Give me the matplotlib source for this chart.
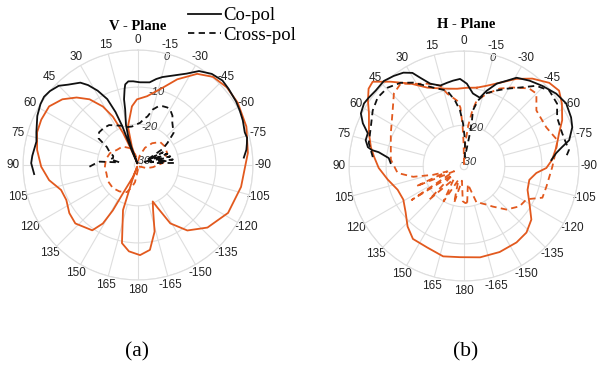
import numpy as np
import matplotlib
matplotlib.use("Agg")
import matplotlib.pyplot as plt
from matplotlib.lines import Line2D

# measured patterns, angle in degrees (0 = boresight, positive to the left), level in dB
# V - plane
v_co1_ang = [95, 89, 85, 77, 72, 64, 58, 54, 50, 45, 41, 35, 32, 28.5, 25, 23, 22, 22.5, 23, 22,
             20.5, 19, 16.7, 13, 12, 10, 9, 6.6, 3.3, -1.3, -8, -12, -15.5, -21, -28, -33, -39,
             -45, -50, -57, -62, -67, -73, -76, -79, -82, -86]
v_co1_db = [-2.9, -2.2, -2.4, -2.9, -2.2, -0.8, 0, 0.3, 0, -0.8, -2.3, -3.9, -5.6, -8.2, -11.4,
            -15.5, -19.8, -23.6, -27.4, -30.5, -26, -23, -19.7, -15.6, -12.9, -10.2, -9.0, -8.3,
            -8.4, -8.7, -8.5, -7.3, -6.4, -5.2, -3.1, -0.8, 0.6, 1.2, 0.9, 0.5, 0.1, -0.3, -0.9,
            -0.7, -1.1, -1.5, -2.4]

v_co2_ang = [20, 24, 25, 27.5, 31, 36.4, 42.3, 49, 56.6, 64.9, 72, 81.5, 91, 99.7, 108, 116, 125,
             133, 145, 149, 151, 152, 157, 158, 159, 161.6, 168.4, 174, -178.7, -172, -166,
             -161.6, -158, -155.6, -151, -143, -132, -118, -102, -83.7, -70.4, -58, -48.8, -40.4,
             -33, -24.6, -16.3, -7.5, 0.9, 5.9, 14.7, 18.4, 20]
v_co2_db = [-30.5, -25.6, -21.4, -16.3, -12.6, -9.0, -6.4, -4.0, -2.3, -2.2, -2.4, -3.5, -4.9,
            -6.7, -9.2, -9.5, -8.4, -7.9, -9.5, -12.6, -17.0, -22.3, -27.5, -30.5, -27, -18.2,
            -9.5, -7.6, -6.7, -7.9, -12.5, -18.1, -20.4, -18.5, -13.0, -8.9, -5.8, -3.5, -2.6,
            -1.2, 0.0, 0.7, 0.8, 0.2, -1.7, -5.6, -9.7, -12.3, -13.3, -15.1, -20.3, -25.8, -30.5]

v_x1_ang = [92, 88, 85, 82, 78, 75, 70, 65, 60, 56, 50, 43, 36, 29, 22, 15, 9, 3, -3, -8, -11,
            -15, -19, -23, -27, -30, -35, -39, -44, -48, -53, -57, -60, -63, -66, -69, -72, -75,
            -78, -81, -84, -87]
v_x1_db = [-17.9, -19.5, -20.6, -26, -23.3, -24, -23.9, -22.5, -21.3, -18.2, -17.3, -17.4, -17.7,
           -18.8, -19.6, -20.4, -20.5, -20.1, -19.6, -18.3, -17.7, -15.5, -14.3, -13.8, -13.6,
           -13.7, -14.8, -16.3, -17.4, -18.1, -21, -23, -28, -23.5, -29, -22.5, -28, -22, -27.5,
           -21.5, -26, -20.4]

v_x2_ang = [-150, -120, -110, -98, -85, -67, -55, -44, -33, -22, -10, 0, 15, 25, 40, 54.5, 67,
            80, 95, 104.5, 118, 132.6, 145, 157.8, 165, 170, 178, -170, -150]
v_x2_db = [-30.5, -30, -28.5, -26.9, -24.2, -22.5, -22.2, -22.4, -24, -26, -28.5, -30, -28, -26,
           -24.5, -24, -22.8, -22.2, -22, -22.2, -21.8, -21.8, -22.3, -23.1, -25, -26.3, -29.6,
           -30.5, -30.5]

# H - plane
h_co1_ang = [87.7, 84, 80.8, 80.2, 78.9, 75.3, 71.2, 67.1, 63, 58, 54.3, 49.5, 43.3, 38, 33, 29,
             26.3, 22.3, 16.5, 11.4, 7.3, 2.6, -2, -7, -13, -16.8, -21.7, -26.6, -30.8, -37.5,
             -44.3, -51.9, -58.5, -65.6, -70.3, -76.2, -79.1, -82, -86.1]
h_co1_db = [-11.2, -10.6, -7.7, -5.8, -4.6, -3.6, -3.6, -1.4, 0.2, 0.8, 0.6, 0.3, 0.5, -0.2, -1.0,
            -2.3, -4.5, -7.0, -8.4, -8.1, -7.8, -7.5, -8.8, -11.3, -12.1, -9.8, -7.1, -5.3, -3.3,
            -2.0, -0.8, 0.6, 1.3, 0.7, 0.0, -1.8, -4.1, -5.9, -7.4]

h_co2_ang = [-9.3, -2, 5, 15, 25, 33, 41, 47.3, 51, 55.8, 61, 71, 78.6, 84, 91.3, 100, 109.7,
             119, 128.5, 137, 145, 155.7, 167, 177.5, -170, -157.5, -145.5, -136.8, -128.5,
             -119.3, -110.6, -102, -95.5, -91.4, -86, -78.5, -71, -65, -57.5, -51.6, -45.7,
             -38, -31, -23.2, -15.9, -9.3]
h_co2_db = [-9.6, -9.9, -10.1, -9.4, -7.7, -4.5, -0.9, 2.5, 2.1, 0.3, -1.7, -3.9, -5.4, -6.6,
            -8.0, -10.1, -12.0, -12.3, -10.9, -8.7, -7.0, -6.9, -6.0, -6.4, -6.0, -5.9, -6.0,
            -6.4, -7.8, -10.8, -12.7, -13.0, -11.4, -8.8, -7.2, -5.6, -3.9, -1.8, 0.3, 1.7, 1.1,
            -1.1, -3.6, -6.6, -8.5, -9.6]

h_x1_ang = [84.4, 76.5, 67.5, 58.7, 51.6, 44.3, 37.3, 31.3, 21.4, 12.6, 7.8, 4.1, 1.3, -2.2, -6,
            -10.3, -9.9, -9.1, -12, -16, -23.5, -28.9, -35.3, -42, -48.5, -56.2, -62.5, -71.6,
            -77.4, -81.4, -85]
h_x1_db = [-6.3, -4.6, -3.8, -2.2, -1.3, -1.5, -2.8, -4.7, -8.3, -10.2, -13.2, -16, -19.5, -24,
           -28.6, -22, -18.5, -15.8, -13, -10.7, -8.8, -7.2, -5.1, -1.9, -0.3, -0.8, -2.7, -3.1,
           -2.8, -2.4, -3.4]

h_x2_ang = [-175, -168, -161, -157, -150, -144.7, -135.7, -126, -118, -112, -104, -90.6,
            -80, -74.5, -64.8, -52.5, -45, -40, -31.8, -24.8, -17.5, -11, -8.5, -6, -3, -1, 1,
            2, 3.5, 6, 13, 16.5, 24, 31.6, 37.6, 44, 52, 66, 85, 96, 102, 106, 108, 113, 118,
            123, 128, 134, 142, 150, 158, 165, 172, 178, -178, -175]
h_x2_db = [-21.1, -26, -20.5, -20.2, -19, -17.6, -14.6, -12.5, -11.9, -8.2, -8.1, -7.2,
           -5.8, -4.9, -6.5, -6.4, -3.4, -3.7, -6.1, -8.0, -10.6, -13.0, -16.0, -20.0, -25.0,
           -30.5, -25.0, -20.0, -15.2, -13.3, -11.0, -8.4, -6.7, -5.0, -3.0, -3.8, -6.6, -9.4,
           -11.2, -13.0, -17.0, -22.4, -26.3, -17.0, -28.0, -14.2, -27.0, -18.0, -26.5, -20.0,
           -27.0, -20.7, -27.0, -21.5, -21.0, -21.1]

theta_ticks = list(range(0, 360, 15))
theta_labels = [str(a if a <= 180 else a - 360) for a in theta_ticks]
r_ticks = [-30, -20, -10, 0]
# where the level labels sit: (angle, level) just inside each ring
r_label_pos = {-30: (-50, -29.5), -20: (-17.5, -20.3), -10: (-14.6, -10.8), 0: (-15, -0.9)}

BLACK = "#111111"
ORANGE = "#E2591E"
GRID = "#dedede"
DASH = (3.5, 2.4)

SANS = ["Liberation Sans", "DejaVu Sans"]
SERIF = ["Liberation Serif", "DejaVu Serif"]

fig = plt.figure(figsize=(5.99, 3.69), dpi=100)


def make_axes(rect, shown_levels):
    ax = fig.add_axes(rect, projection="polar")
    ax.set_theta_zero_location("N")
    ax.set_theta_direction(1)
    ax.set_rlim(-31, 0)
    ax.set_xticks(np.deg2rad(theta_ticks))
    ax.set_xticklabels(theta_labels, fontsize=8.5, family=SANS, color="#222222")
    ax.tick_params(axis="x", pad=-3.5)
    ax.set_yticks(r_ticks)
    ax.set_yticklabels([])
    ax.xaxis.grid(False)
    ax.yaxis.grid(True, color=GRID, lw=0.8)
    ax.spines["polar"].set_color(GRID)
    ax.spines["polar"].set_linewidth(0.8)
    # spokes start at the -20 dB ring
    for a in theta_ticks:
        ax.plot([np.deg2rad(a)] * 2, [-20, 0], color=GRID, lw=0.8, zorder=0.5)
    for lev in shown_levels:
        a, r = r_label_pos[lev]
        ax.text(np.deg2rad(a), r, str(lev), ha="center", va="center", fontsize=8,
                family=SANS, style="italic", color="#333333", zorder=2)
    return ax


def trace(ax, ang, db, color, dashed=False):
    th = np.unwrap(np.deg2rad(ang))
    line, = ax.plot(th, db, color=color, lw=1.3, clip_on=False, zorder=3)
    if dashed:
        line.set_dashes(DASH)
    return line


ax1 = make_axes([23 / 599, 1 - 280 / 369, 230 / 599, 230 / 369], [-30, -20, -10, 0])
trace(ax1, v_co2_ang, v_co2_db, ORANGE)
trace(ax1, v_x2_ang, v_x2_db, ORANGE, dashed=True)
trace(ax1, v_co1_ang, v_co1_db, BLACK)
trace(ax1, v_x1_ang, v_x1_db, BLACK, dashed=True)

ax2 = make_axes([349 / 599, 1 - 281 / 369, 230 / 599, 230 / 369], [-30, -20, 0])
trace(ax2, h_co2_ang, h_co2_db, ORANGE)
trace(ax2, h_x2_ang, h_x2_db, ORANGE, dashed=True)
trace(ax2, h_co1_ang, h_co1_db, BLACK)
trace(ax2, h_x1_ang, h_x1_db, BLACK, dashed=True)

fig.text(138 / 599, 1 - 26 / 369, "V - Plane", ha="center", va="center",
         fontsize=10.5, fontweight="bold", family=SERIF)
fig.text(466 / 599, 1 - 24 / 369, "H - Plane", ha="center", va="center",
         fontsize=10.5, fontweight="bold", family=SERIF)

fig.text(137 / 599, 1 - 352 / 369, "(a)", ha="center", va="center", fontsize=15.5, family=SERIF)
fig.text(466 / 599, 1 - 352 / 369, "(b)", ha="center", va="center", fontsize=15.5, family=SERIF)

handles = [Line2D([], [], color=BLACK, lw=1.3),
           Line2D([], [], color=BLACK, lw=1.3, dashes=DASH)]
fig.legend(handles, ["Co-pol", "Cross-pol"], loc="upper left",
           bbox_to_anchor=(179 / 599, 1 + 2 / 369), frameon=False, borderpad=0,
           handlelength=1.75, handletextpad=0.1, labelspacing=0.12,
           prop={"family": SERIF, "size": 13.5})

fig.savefig("out.png", dpi=100)
